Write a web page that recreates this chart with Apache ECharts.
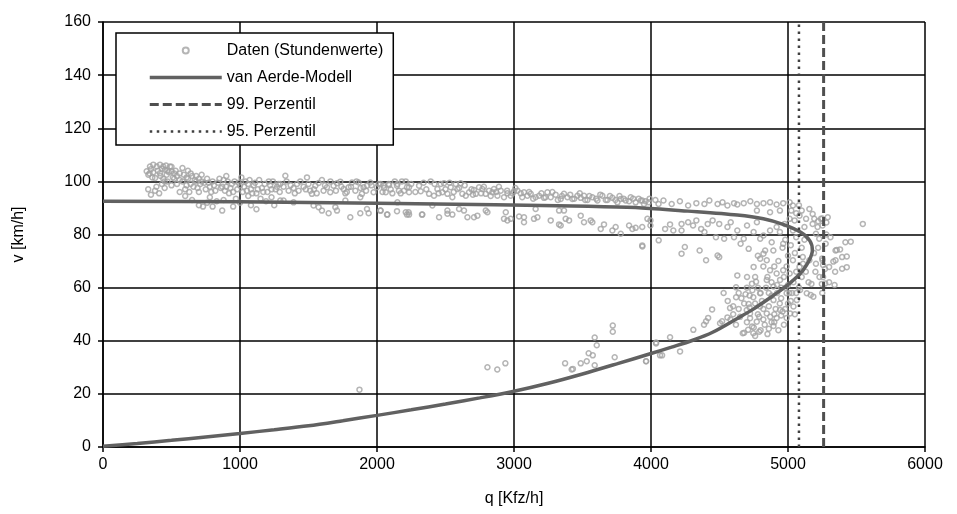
<!DOCTYPE html>
<html>
<head>
<meta charset="utf-8">
<script src="https://cdn.jsdelivr.net/npm/echarts@6/dist/echarts.min.js"></script>
<style>
html,body{margin:0;padding:0;background:#fff;}
#chart{width:957px;height:514px;}
</style>
</head>
<body>
<div id="chart"></div>
<script>
// Axis ticks
var xTicks = [0, 1000, 2000, 3000, 4000, 5000, 6000];
var yTicks = [0, 20, 40, 60, 80, 100, 120, 140, 160];

// Series names
var seriesNames = ['Daten (Stundenwerte)', 'van Aerde-Modell', '99. Perzentil', '95. Perzentil'];

// Percentile values of q [Kfz/h]
var perzentil99 = 5260;
var perzentil95 = 5080;

// Van Aerde model curve: [q, v]
var modellKurve = [
  [0,0.3],[250,1.3],[500,2.5],[750,3.8],[1000,5.1],[1250,6.5],[1500,8],[1750,9.9],[2000,11.9],
  [2250,14],[2500,16.2],[2750,18.5],[3000,21],[3250,24],[3500,27.5],[3750,31.3],[4000,35.2],
  [4150,37.6],[4300,40.1],[4450,43.2],[4630,48.4],[4750,52],[4870,56.2],[4960,59.5],[5020,62],
  [5070,64.3],[5110,66.6],[5155,70.3],[5178,74],[5160,77.6],[5090,80.9],[4964,83.8],[4820,85.9],
  [4630,87.3],[4270,88.8],[3911,90.1],[3543,90.6],[2861,91.2],[2000,91.8],[1000,92.3],[0,92.5]
];

// Hourly data points: [q, v]
var stundenwerte = [
  // top-left cluster
  [319,103.8],[343,105.6],[367,106.3],[392,105.6],[416,106.3],[440,105.6],[452,104.4],[489,105.6],[501,103.8],
  [416,103.1],[367,103.4],[331,102.5],[465,102.5],[380,101.3],[350,104.6],[430,104.8],[470,104],[520,103],
  [350,95],[330,97],[380,96.5],[390,98],[410,95.5],[430,99],[450,97.5],[470,100],[500,98.5],[440,101],
  [480,103.5],[530,104],[510,101.5],[450,100],[580,105],[620,104],[560,103],
  [340,103],[360,101.5],[400,104],[420,102],[460,106],[500,105.5],[540,102],[560,100.5],[590,102.5],
  [610,101.5],[640,103],[680,102],[700,101],
  // band q 500-1300
  [520,101],[540,99],[580,100],[600,97],[620,101],[640,99],[660,98],[680,100],[700,96],[720,100],
  [560,96],[600,94.5],[650,93],[700,91],[730,90.5],[760,92],[650,102],[720,102.5],
  [740,99.5],[760,101],[780,98],[800,100],[820,96.5],[840,99.5],[860,97.5],[880,100.5],[900,98],
  [920,95.5],[940,99],[960,100],[980,97],[1000,98.5],[1020,96],[1040,100],[1060,99],[1080,97],
  [1100,98.5],[1120,95.5],[1140,100.5],[1160,97.5],[1180,99],[1200,96],[1220,98.5],[1240,100],
  [1260,97],[1280,99],[1060,94.5],[1150,93.5],[780,94],[830,92.5],[880,93],[950,90.5],[1000,92],
  [1080,91],[1120,89.5],[1190,92.5],[1250,91],[870,89],[800,90.5],[970,93.5],[1230,94],[1010,101.5],
  [900,102],
  [610,98.5],[630,96],[670,100.5],[690,97.5],[710,99],[750,97],[770,99.5],[790,96],[810,98.5],
  [850,101],[870,98],[890,96.5],[910,100],[930,97.5],[950,96],[990,99.5],[1030,98],[1050,96.5],
  [1070,100.5],[1090,95.5],[1110,99.5],[1130,97],[1170,96],[1210,100],[1230,97],[1270,98],[1290,96],
  // band q 1300-2300
  [1331,102.1],[1294,99],[1318,98],[1355,96.5],[1391,97.5],[1416,99],[1428,96.5],[1464,98],[1489,101.5],
  [1513,96.5],[1525,95.3],[1550,98.4],[1574,99.4],[1598,100.5],[1610,96.5],[1635,97.8],[1659,95.9],
  [1683,98.4],[1708,99.3],[1732,99.9],[1756,97.1],[1769,95.5],[1793,97.8],[1817,99.6],[1842,96.5],
  [1866,99.6],[1890,95.3],[1902,97.8],[1927,98.4],[1951,99.6],[1975,95.9],[2000,97.8],[2012,99],
  [2048,98.4],[2085,99],[2146,98.4],[2182,100],[2219,97.8],
  [1340,100],[1370,98.5],[1400,95.5],[1440,100],[1480,97],[1500,99],[1540,97],[1560,95.5],[1620,98.5],
  [1660,100],[1700,96.5],[1740,98],[1780,96],[1810,98],[1850,100],[1880,97.5],[1920,96.5],[1960,98.5],
  [1294,92.8],[1318,92.8],[1391,92.1],[1537,90.9],[1574,90.3],[1598,89],[1647,88],[1696,90.3],
  [1708,89],[1769,92.8],[1805,86.5],[1878,88],[1878,94],[1927,89.6],[1939,88],[2024,89],[2073,87.5],
  [2146,88.8],[2219,87.5],[2231,88.4],[2328,87.5],
  // band q 2000-4000
  [2027,99],[2051,97.5],[2064,95.9],[2088,98.6],[2112,95.5],[2149,99],[2173,95.5],[2197,96.5],[2210,100],
  [2234,97.8],[2234,95.9],[2307,98.4],[2319,96.3],[2380,95.3],[2392,100],[2416,94.6],[2441,97.1],
  [2465,99],[2477,95.9],[2489,99.3],[2514,95.3],[2538,97.8],[2550,94],[2575,99],[2587,97.1],[2611,99.3],
  [2623,95.3],[2648,94.6],[2672,95.9],[2708,96.8],[2721,95.3],[2745,97.8],[2769,97.1],[2794,95.3],
  [2818,96.5],[2842,95.9],[2854,97.1],[2879,94.6],[2903,96.5],[2927,94],[2952,95.5],[2976,94.6],
  [3000,96.3],[3025,96.5],[3049,95.5],[3073,95.9],[3098,94.6],[3122,95.3],[3158,94],[3183,94.6],
  [3219,93.8],[3244,95.9],[3268,94],[3304,95],[3341,93.4],[3365,95.3],[3390,94],[3426,93.4],[3463,94.6],
  [3487,93.8],[3511,94.6],[3536,93],[3572,94],[3609,92.8],[3645,94.6],[3682,93],[3718,93.8],[3755,92.1],
  [3779,93.4],[3815,92.8],[3852,94],[3888,92.1],[3925,92.8],[3949,91.5],
  [2040,96],[2100,97],[2130,100],[2160,96.5],[2250,99],[2280,96],[2340,99.5],[2360,97],[2420,99],
  [2450,95.5],[2500,97],[2530,99.5],[2560,96],[2600,97.5],[2640,98.5],[2690,97],[2700,95],[2760,95.5],
  [2780,98],[2830,94.5],[2870,96],[2890,98],[2950,96.5],[2990,95.5],[3010,97.5],[3060,94],[3110,96],
  [3140,93.5],[3200,95.5],[3230,94],[3280,96],[3320,93],[3350,94.5],[3410,95],[3440,93.5],[3480,95.5],
  [3520,93],[3550,94.5],[3600,93.5],[3630,95],[3670,93],[3700,94.5],[3740,93],[3770,94.5],[3800,93.5],
  [3840,92.5],[3870,93.5],[3910,93.5],[3960,92.5],[3990,93.5],
  [2027,89],[2076,87.5],[2149,92.1],[2210,88.4],[2234,87.5],[2331,87.5],[2404,90.9],[2453,86.5],
  [2514,89],[2514,87.8],[2550,87.5],[2599,89.6],[2635,89],[2660,86.5],[2708,86.5],[2733,87.1],[2794,89],
  [2806,88.4],[2940,88.4],[2927,85.9],[2952,85.3],[2976,85.9],[3037,86.8],[3073,86.5],[3073,84.6],
  [3146,85.9],[3171,86.5],[3158,89.6],[3268,85.3],[3329,83.8],[3341,83.4],[3329,89],[3365,89],
  [3377,85.9],[3402,85.3],[3487,87.1],[3511,84.6],[3560,85.3],[3572,84.6],[3633,82.1],[3657,83.8],
  [3718,81.5],[3742,82.8],[3779,80.3],[3840,83.4],[3864,82.1],[3888,82.5],[3937,75.5],[3974,85.9],
  // near capacity, upper
  [3936,92.8],[3984,92.1],[4032,93],[4055,91.5],[4091,92.8],[4151,91.5],[4211,92.5],[4271,90.9],
  [4331,91.8],[4390,91.5],[4426,92.8],[4486,91.5],[4522,92.1],[4558,90.9],[4606,91.8],[4630,91.3],
  [4677,91.8],[4725,92.5],[4773,91.5],[4821,91.8],[4869,92.1],[4917,91.3],[4965,91.8],[5012,92.1],
  [5036,90.9],[5024,89],[4941,89],[4869,88.4],[4773,89],
  [3936,82.8],[3996,85.3],[3996,83.4],[4056,77.8],[4103,82.1],[4139,83.8],[4163,81.5],[4223,84],
  [4223,81.5],[4271,84.6],[4307,83.4],[4331,85.3],[4366,82.1],[4390,80.9],[4414,84],[4450,85.3],
  [4474,79],[4498,84],[4534,78.4],[4558,82.8],[4582,84.6],[4606,79],[4630,81.5],[4654,76.5],[4677,78.4],
  [4701,83.4],[4713,74.6],[4749,80.9],[4773,84.6],[4797,78.4],[4821,79.6],[4833,74],[4869,81.5],
  [4881,77.1],[4893,74],[4917,82.8],[4941,80.9],[4965,76.5],[4976,84],[5012,85.9],[5036,81.5],
  [5048,85.3],[5084,87.1],[5120,82.8],[5132,85.9],[5156,89.6],[5180,84],[5192,85.9],[5204,80.3],
  [5216,82.8],[5240,85.9],[5252,83.4],[5228,78.4],[5275,76.5],[5347,74],[5395,71.5],[5419,77.1],
  [5347,70.3],[5252,70.3],[5204,69],[5300,67.8],[5395,67.1],[5156,70.3],[5108,71.5],[5084,67.8],
  [5036,70.3],[5012,65.3],[4965,66.5],[4917,65.3],[4869,66.5],[4845,70.3],[4821,72.8],[4797,70.9],
  [4749,67.8],[4737,61.5],[4701,64],[4630,64.6],[4486,72.1],[4498,71.5],[4402,70.3],[4355,74],
  [4247,75.3],[4223,72.8],[3936,75.9],
  [5546,84],[5356,74.2],[5380,74.4],[5429,71.7],[5458,77.3],[5429,67.7],[5344,66],[5331,69.8],
  [5256,68.5],[5256,64],[5220,85],[5250,86],[5280,84.5],[5290,86.5],[5180,87.7],[5080,91],[5060,88],
  [5100,89],[4980,78],[5020,76],[5060,79],[5100,75],[5120,78],[5050,73],[5000,72],[4960,75],
  // descending cluster
  [4621,60.1],[4621,56.4],[4767,62.2],[4747,56.4],[4796,57.9],[4713,53.8],[4699,51.6],[4446,51.8],
  [4577,52.3],[4558,48.8],[4519,47.3],[4504,46.6],[4417,48.6],[4402,47.3],[4387,46],[4309,44.1],
  [4139,41.3],[4037,39.3],[4081,34.5],[4212,36],[3964,32.3],
  [4670,42.8],[4709,44.1],[4747,42.8],[4790,43.4],[4738,45.4],[4772,47.2],[4723,48.5],[4894,45.6],
  [4990,48.6],[4917,48.6],[4845,50.3],[4942,51.6],[5040,52.9],[5015,50.3],[5064,55.3],[5088,59.1],
  [5137,57.9],[5166,57.2],[5185,56.6],[5171,61.4],[5247,61.4],[5271,61.6],[4990,57.9],[4894,55.3],
  [4796,52.9],[4723,50.3],[4894,60.4],[4845,62.9],[4942,62.9],
  [4780,72],[4820,68],[4850,64],[4880,62],[4900,68],[4930,70],[4950,60],[4970,64],[4990,68],[5010,58],
  [5040,62],[5060,66],[5080,60],[5100,64],[4920,58],[4880,57],[4840,60],[4800,58],[4760,64],[4700,60],
  [4660,56],[4640,52],[4600,50],[4560,55],[4530,58],[4720,57],[4760,54],[4810,55],[4860,53],[4900,50],
  [4940,54],[4980,52],[5020,55],[5050,50],[4970,46],[4930,44],[4880,47],[4830,46],[4790,49],[4750,45],
  [4700,47],[4680,43],[4620,46],[4580,48],[4850,42.5],[4760,41.8],[4800,44],[4950,56],[5000,61],
  [5060,58],[5110,69],[5130,66],[5150,62],[5200,66],[5230,64],[5270,67],[5300,62],[5340,61],[5250,58],
  [5190,73],[5220,75],[5250,71],[5280,80],[5310,79],
  [4640,58],[4680,54],[4720,52.5],[4780,50],[4820,52],[4870,49],[4910,52],[4950,49.5],[5000,54],
  [5030,58],[4980,60],[4920,61],[4860,58],[4780,60],[4740,59],[4690,57.5],[4650,49],[4600,53],
  [4860,44.5],[4900,47],[4960,51],[4820,48],
  // lower scattered
  [2806,30],[2878,29.2],[2937,31.5],[3373,31.5],[3421,29.2],[3430,29.4],[3487,31.5],[3531,32.3],
  [3545,35.3],[3575,34.5],[3589,41.2],[3604,38.3],[3589,30.8],[3721,45.7],[3721,43.4],[3735,33.8],
  [3964,32.3],[4037,39],[4066,34.5],[1872,21.6]
];

var chart = echarts.init(document.getElementById('chart'), null, {renderer: 'canvas'});
var font = 'Liberation Sans, Arial, sans-serif';

var option = {
  animation: false,
  backgroundColor: '#ffffff',
  grid: {left: 103, right: 32, top: 22, bottom: 67, containLabel: false},
  legend: {
    orient: 'vertical',
    left: 116,
    top: 33,
    padding: [9, 10, 5, 32],
    itemWidth: 72,
    itemHeight: 6,
    itemGap: 10,
    backgroundColor: '#ffffff',
    borderColor: '#000000',
    borderWidth: 1.5,
    borderRadius: 0,
    textStyle: {fontFamily: font, fontSize: 16, color: '#000', lineHeight: 17},
    data: [
      {name: seriesNames[0], icon: 'circle'},
      {name: seriesNames[1], itemStyle: {opacity: 0}, lineStyle: {width: 3.5, color: '#616161'}},
      {name: seriesNames[2], itemStyle: {opacity: 0}, lineStyle: {width: 3, color: '#4f4f4f', type: [9, 4]}},
      {name: seriesNames[3], itemStyle: {opacity: 0}, lineStyle: {width: 2.5, color: '#404040', type: [2.5, 4.5]}}
    ]
  },
  xAxis: {
    type: 'value',
    min: xTicks[0], max: xTicks[xTicks.length - 1], interval: 1000,
    name: 'q [Kfz/h]', nameLocation: 'middle', nameGap: 44,
    nameTextStyle: {fontFamily: font, fontSize: 16, color: '#000'},
    axisLine: {show: true, lineStyle: {color: '#000', width: 1.5}},
    axisTick: {show: true, inside: false, length: 5, lineStyle: {color: '#000', width: 1.5}},
    axisLabel: {fontFamily: font, fontSize: 16, color: '#000', margin: 10,
      formatter: function (v) { return String(v); }},
    splitLine: {show: true, lineStyle: {color: '#000', width: 1.5}}
  },
  yAxis: {
    type: 'value',
    min: yTicks[0], max: yTicks[yTicks.length - 1], interval: 20,
    name: 'v [km/h]', nameLocation: 'middle', nameGap: 76, nameRotate: 90,
    nameTextStyle: {fontFamily: font, fontSize: 16, color: '#000'},
    axisLine: {show: true, lineStyle: {color: '#000', width: 1.5}},
    axisTick: {show: true, inside: false, length: 5, lineStyle: {color: '#000', width: 1.5}},
    axisLabel: {fontFamily: font, fontSize: 16, color: '#000', margin: 12},
    splitLine: {show: true, lineStyle: {color: '#000', width: 1.5}}
  },
  series: [
    {
      name: seriesNames[0],
      type: 'scatter',
      symbol: 'circle',
      symbolSize: 5,
      data: stundenwerte,
      itemStyle: {color: 'rgba(255,255,255,0)', borderColor: '#a3a3a3', borderWidth: 1.5},
      z: 2
    },
    {
      name: seriesNames[1],
      type: 'line',
      data: modellKurve,
      showSymbol: false,
      symbol: 'none',
      smooth: 0.3,
      lineStyle: {color: '#616161', width: 3.5},
      itemStyle: {color: '#616161'},
      z: 3
    },
    {
      name: seriesNames[2],
      type: 'line',
      data: [[perzentil99, yTicks[0]], [perzentil99, yTicks[yTicks.length - 1]]],
      showSymbol: false,
      symbol: 'none',
      lineStyle: {color: '#4f4f4f', width: 3, type: [9, 4]},
      itemStyle: {color: '#4f4f4f'},
      z: 4
    },
    {
      name: seriesNames[3],
      type: 'line',
      data: [[perzentil95, yTicks[0]], [perzentil95, yTicks[yTicks.length - 1]]],
      showSymbol: false,
      symbol: 'none',
      lineStyle: {color: '#404040', width: 2.5, type: [2.5, 4.5]},
      itemStyle: {color: '#404040'},
      z: 4
    }
  ]
};
chart.setOption(option);
</script>
</body>
</html>
